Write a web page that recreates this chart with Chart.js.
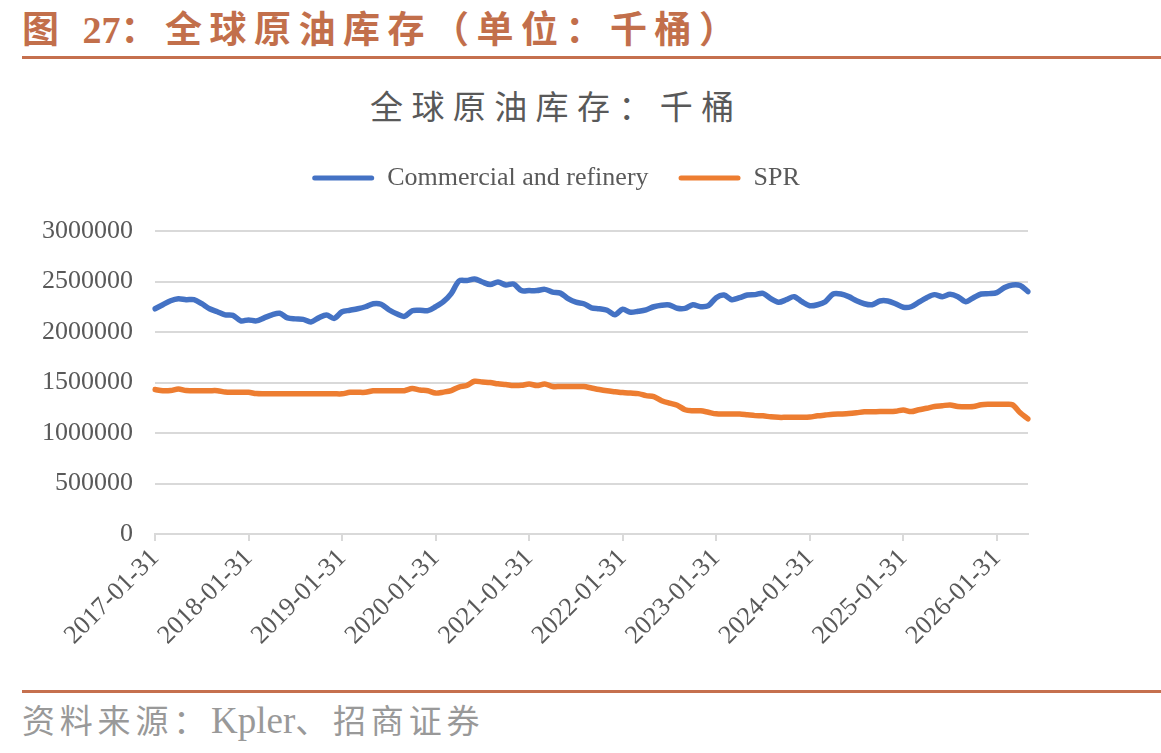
<!DOCTYPE html>
<html><head><meta charset="utf-8">
<script src="https://cdn.jsdelivr.net/npm/chart.js@4.4.1/dist/chart.umd.min.js"></script>
<style>
html,body{margin:0;padding:0;background:#fff;}
body{width:1161px;height:753px;overflow:hidden;position:relative;}
#title{position:absolute;left:22px;top:9px;font-family:"Noto Sans CJK SC";font-weight:bold;font-size:37px;line-height:1;color:#C26F4B;letter-spacing:7.5px;white-space:nowrap;}
#title .num{font-family:"Liberation Serif";font-weight:bold;font-size:38px;letter-spacing:0;}
.rule{position:absolute;left:22px;right:0;height:3px;background:#C5704E;}
#ctitle{position:absolute;left:370px;top:89px;font-family:"Noto Sans CJK SC";font-size:33px;line-height:1;color:#595959;letter-spacing:8.4px;white-space:nowrap;}
#src{position:absolute;left:22px;top:702px;font-family:"Noto Sans CJK SC";font-size:33px;line-height:1;color:#999999;letter-spacing:4.8px;white-space:nowrap;}
#src .lat{font-family:"Liberation Serif";font-size:37px;letter-spacing:0;}
#wrap{position:absolute;left:0;top:130px;width:1161px;height:560px;}
</style></head>
<body>
<div id="title">图 <span class="num">27</span>：全球原油库存（单位：千桶）</div>
<div class="rule" style="top:56px"></div>
<div id="ctitle">全球原油库存：千桶</div>
<div id="wrap"><canvas id="c"></canvas></div>
<div class="rule" style="top:690px"></div>
<div id="src">资料来源：<span class="lat">Kpler</span>、招商证券</div>
<script>
// Monthly series, first value = 2017-01, last = 2026-05 (thousand barrels)
const startYear = 2017, startMonth = 1, monthCount = 113;
const tickLabels = ["2017-01-31","2018-01-31","2019-01-31","2020-01-31","2021-01-31","2022-01-31","2023-01-31","2024-01-31","2025-01-31","2026-01-31"];
const seriesNames = ["Commercial and refinery","SPR"];
const commercial = [
2230000,2270000,2310000,2330000,2320000,2320000,2280000,2230000,2200000,2170000,2165000,2110000,
2120000,2110000,2140000,2170000,2185000,2140000,2130000,2125000,2100000,2140000,2168000,2135000,
2200000,2215000,2230000,2250000,2280000,2275000,2220000,2180000,2155000,2211000,2215000,2211000,
2250000,2300000,2380000,2505000,2510000,2525000,2495000,2470000,2495000,2465000,2475000,2410000,
2410000,2410000,2422000,2395000,2385000,2330000,2295000,2280000,2240000,2230000,2215000,2170000,
2225000,2195000,2205000,2220000,2250000,2265000,2267000,2235000,2234000,2270000,2250000,2260000,
2340000,2366000,2320000,2340000,2366000,2370000,2383000,2330000,2294000,2320000,2350000,2300000,
2260000,2270000,2300000,2376000,2376000,2350000,2310000,2280000,2270000,2307000,2307000,2280000,
2245000,2250000,2295000,2340000,2370000,2350000,2373000,2350000,2300000,2340000,2376000,2380000,
2390000,2440000,2465000,2460000,2400000
];
const spr = [
1430000,1418000,1420000,1436000,1420000,1419000,1419000,1419000,1419000,1405000,1403000,1403000,
1403000,1390000,1388000,1388000,1388000,1388000,1388000,1388000,1388000,1388000,1388000,1388000,
1388000,1403000,1403000,1403000,1418000,1419000,1419000,1419000,1419000,1440000,1425000,1418000,
1395000,1405000,1420000,1455000,1470000,1512000,1505000,1500000,1487000,1480000,1470000,1472000,
1485000,1470000,1485000,1460000,1460000,1460000,1460000,1460000,1445000,1430000,1418000,1409000,
1400000,1395000,1390000,1370000,1360000,1320000,1295000,1275000,1230000,1220000,1220000,1205000,
1190000,1188000,1188000,1188000,1180000,1172000,1170000,1160000,1155000,1155000,1155000,1155000,
1158000,1170000,1178000,1185000,1188000,1192000,1200000,1210000,1211000,1212000,1212000,1215000,
1228000,1212000,1230000,1245000,1262000,1270000,1278000,1262000,1261000,1262000,1280000,1284000,
1284000,1284000,1280000,1200000,1140000
];
const yTicks = [0,500000,1000000,1500000,2000000,2500000,3000000];

// month-end date labels for categories
const categories = [];
for (let i = 0; i < monthCount; i++) {
  const y = startYear + Math.floor((startMonth - 1 + i) / 12);
  const m = (startMonth - 1 + i) % 12 + 1;
  const d = new Date(Date.UTC(y, m, 0)).getUTCDate();
  categories.push(y + "-" + String(m).padStart(2, "0") + "-" + String(d).padStart(2, "0"));
}

const serif = "Liberation Serif";
const txt = "#595959";
const grid = "#d9d9d9";

const legendPlace = {
  id: "legendPlace",
  beforeInit(chart) {
    const fit = chart.legend.fit;
    chart.legend.fit = function () { fit.call(this); this.height += 30; };
  },
  afterLayout(chart) {
    chart.legend.left = 84;
    chart.legend.right = chart.chartArea.right;
  }
};

new Chart(document.getElementById("c"), {
  type: "line",
  data: {
    labels: categories,
    datasets: [
      {label: seriesNames[0], data: commercial, borderColor: "#4472C4", backgroundColor: "#4472C4", borderWidth: 5.5, pointRadius: 0, tension: 0.3, borderCapStyle: "round", borderJoinStyle: "round"},
      {label: seriesNames[1], data: spr, borderColor: "#ED7D31", backgroundColor: "#ED7D31", borderWidth: 5.5, pointRadius: 0, tension: 0.3, borderCapStyle: "round", borderJoinStyle: "round"}
    ]
  },
  options: {
    responsive: true,
    maintainAspectRatio: false,
    animation: false,
    layout: {padding: {left: 0, right: 133, top: 5, bottom: 0}},
    plugins: {
      tooltip: {enabled: false},
      legend: {
        position: "top",
        labels: {
          boxWidth: 62, boxHeight: 5, padding: 30, color: txt,
          font: {family: serif, size: 26},
          useBorderRadius: true, borderRadius: 2.5,
          generateLabels(chart) {
            return Chart.defaults.plugins.legend.labels.generateLabels(chart).map(l => Object.assign(l, {lineWidth: 0}));
          }
        }
      }
    },
    scales: {
      x: {
        type: "category",
        offset: false,
        afterFit(s) { s.height = 156; },
        grid: {drawOnChartArea: false, drawTicks: true, tickLength: 7, color: grid, lineWidth: 2},
        border: {display: true, color: grid, width: 2},
        ticks: {
          autoSkip: false, maxRotation: 45, minRotation: 45, color: txt, padding: 2,
          font: {family: serif, size: 26},
          callback(v, i) { const lab = categories[i]; const t = lab.slice(0, 8) + "31"; return lab.slice(5, 7) === "01" && tickLabels.includes(t) ? t : null; }
        }
      },
      y: {
        min: 0, max: 3000000,
        afterFit(s) { s.width = 155; },
        afterBuildTicks(s) { s.ticks = yTicks.map(v => ({value: v})); },
        grid: {color: grid, lineWidth: 2, drawTicks: false},
        border: {display: false},
        ticks: {color: txt, padding: 22, font: {family: serif, size: 26}, callback: v => String(v)}
      }
    }
  },
  plugins: [legendPlace]
});
</script>
</body></html>
